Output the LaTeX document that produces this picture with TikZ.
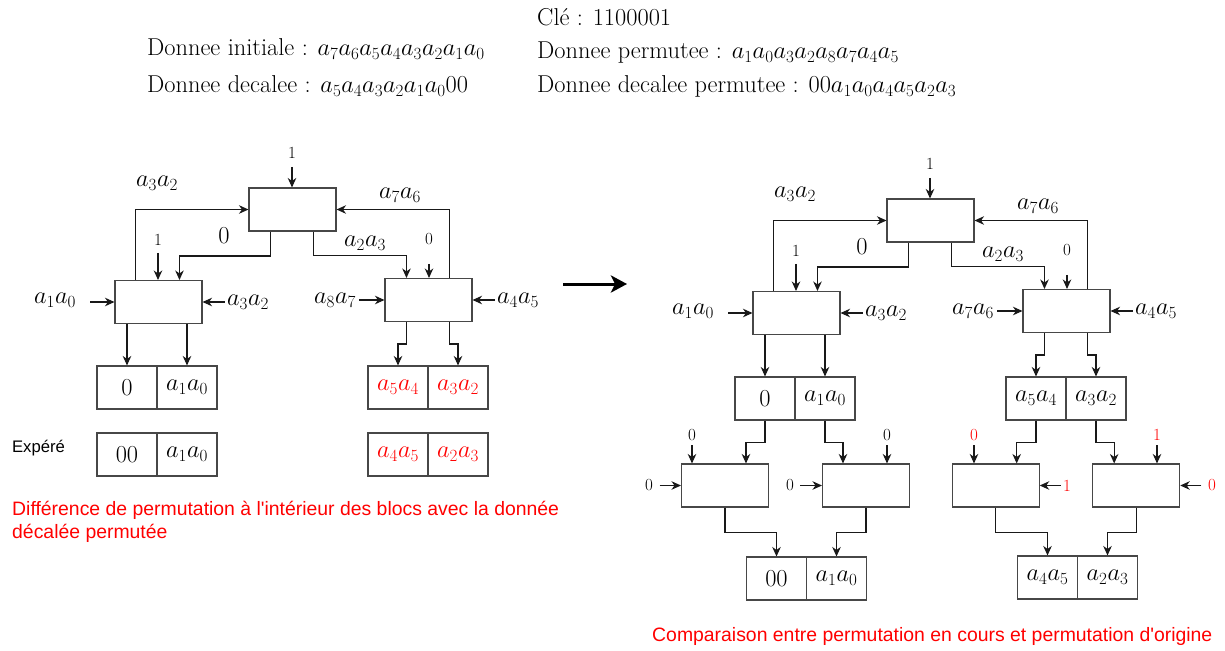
\RequirePackage{fix-cm}
\documentclass[tikz,border=0pt]{standalone}
\usepackage{fontspec}
\newfontfamily\arialf{Liberation Sans}
\usetikzlibrary{arrows.meta,calc}
\newcommand\lblfont{\fontsize{24.4}{29}\selectfont}
\newcommand\smfont{\fontsize{17}{20}\selectfont}
\newcommand\redfont{\arialf\fontsize{19.4}{23}\selectfont}
\newcommand\topdiag[2]{%
 \node[blk] (T) at (292.5,209.5) {};
 \node[blk] (A) at (158.5,302) {};
 \node[blk] (B) at (428.5,300) {};
 \node[cell] (Oa) at (127,387.5) {$0$};
 \node[cell] (Ob) at (187,387.5) {$a_1a_0$};
 \node[cell,text=#2] (Pa) at (398,387.5) {$a_5a_4$};
 \node[cell,text=#2] (Pb) at (458,387.5) {$a_3a_2$};
 \node[sml] (k1) at (292,153) {1};
 \node[sml] (k2) at (158,240) {1};
 \node[sml] (k3) at (429,239) {0};
 \node[lbl] (l1) at (157,183) {$a_3a_2$};
 \node[lbl] (l2) at (400,195) {$a_7a_6$};
 \node[lbl] (l3) at (224,236) {$0$};
 \node[lbl] (l4) at (365,243) {$a_2a_3$};
 \node[lbl] (l5) at (55,300) {$a_1a_0$};
 \node[lbl] (l6) at (248,302) {$a_3a_2$};
 \node[lbl] (l7) at (335,300) {$#1$};
 \node[lbl] (l8) at (518,300) {$a_4a_5$};
 \draw[arr,shorten <=6pt] (k1.south) -- (k1.south |- T.north);
 \draw[arr,shorten <=5pt] (k2.south) -- (k2.south |- A.north);
 \draw[arr,shorten <=17pt] (k3.south) -- (k3.south |- B.north);
 \draw[arr] ($(A.north west)+(21,0)$) |- (T.west);
 \draw[arr] ($(B.north west)+(65,0)$) |- (T.east);
 \draw[arr] ($(T.south west)+(22,0)$) -- ++(0,24.5) -| ($(A.north west)+(65,0)$);
 \draw[arr] ($(T.south west)+(65,0)$) -- ++(0,24) -| ($(B.north west)+(22,0)$);
 \draw[arr] (A.south -| Oa.north) -- (Oa.north);
 \draw[arr] (A.south -| Ob.north) -- (Ob.north);
 \draw[arr] ($(B.south west)+(22,0)$) -- ++(0,22) -| (Pa.north);
 \draw[arr] ($(B.south west)+(65,0)$) -- ++(0,22) -| (Pb.north);
 \draw[arr,shorten <=12pt] (l5.east |- A.west) -- (A.west);
 \draw[arr] (l6.west |- A.east) -- (A.east);
 \draw[arr,shorten <=1pt] (l7.east |- B.west) -- (B.west);
 \draw[arr] (l8.west |- B.east) -- (B.east);
}
\begin{document}
\begin{tikzpicture}[x=1pt,y=-1pt,
 blk/.style={draw=black!72,line width=1.05pt,minimum width=87pt,minimum height=43pt,inner sep=0pt},
 cell/.style={draw=black!72,line width=1.05pt,minimum width=60pt,minimum height=43pt,inner sep=0pt,font=\lblfont},
 lbl/.style={font=\lblfont,inner sep=2pt},
 sml/.style={font=\smfont,inner sep=2pt},
 arr/.style={line width=1.1pt,draw=black!90,-{Stealth[length=9.5pt,width=8.5pt,inset=3pt]}},
 hd/.style={font=\lblfont,anchor=base west,inner sep=0pt}]
\useasboundingbox (0,0) rectangle (1225,650);
% header
\node[hd] (h0) at (537,26) {Clé : 1100001};
\node[hd] (h1) at (147,56) {Donnee initiale : $a_7a_6a_5a_4a_3a_2a_1a_0$};
\node[hd] (h2) at (537,59) {Donnee permutee : $a_1a_0a_3a_2a_8a_7a_4a_5$};
\node[hd] (h3) at (147,93) {Donnee decalee : $a_5a_4a_3a_2a_1a_000$};
\node[hd] (h4) at (537,93) {Donnee decalee permutee : $00a_1a_0a_4a_5a_2a_3$};
% left diagram
\begin{scope}[name prefix=L-]
\topdiag{a_8a_7}{red}
\node[cell] (Ea) at (127,454.5) {$00$};
\node[cell] (Eb) at (187,454.5) {$a_1a_0$};
\node[cell,text=red] (Sa) at (398,454.5) {$a_4a_5$};
\node[cell,text=red] (Sb) at (458,454.5) {$a_2a_3$};
\node[font=\arialf\fontsize{16.7}{20}\selectfont,inner sep=0pt] (ex) at (38.5,448) {Expéré};
\node[anchor=west,text=red,font=\redfont,align=left,inner sep=0pt] (n1) at (12,521.5)
  {Différence de permutation à l'intérieur des blocs avec la donnée\\décalée permutée};
\end{scope}
% central arrow
\coordinate (m1) at (563,284);
\coordinate (m2) at (627,284);
\draw[line width=3pt,-{Stealth[length=16pt,width=17pt,inset=4pt]}] (m1) -- (m2);
% right diagram
\begin{scope}[shift={(638,11)},name prefix=R-]
\topdiag{a_7a_6}{black}
\end{scope}
\node[blk] (C1) at (725,485.5) {};
\node[blk] (C2) at (866,485.5) {};
\node[blk] (C3) at (995.7,485.5) {};
\node[blk] (C4) at (1136.2,485.5) {};
\node[cell] (Fa) at (776.5,578.5) {$00$};
\node[cell] (Fb) at (836.5,578.5) {$a_1a_0$};
\node[cell] (Ga) at (1047.5,577.5) {$a_4a_5$};
\node[cell] (Gb) at (1107.5,577.5) {$a_2a_3$};
\draw[arr] (R-Oa.south) -- ++(0,22) -| ($(C1.north west)+(65,0)$);
\draw[arr] (R-Ob.south) -- ++(0,22) -| ($(C2.north west)+(21,0)$);
\draw[arr] (R-Pa.south) -- ++(0,22) -| ($(C3.north west)+(65,0)$);
\draw[arr] (R-Pb.south) -- ++(0,22) -| ($(C4.north west)+(22,0)$);
\draw[arr] (C1.south) -- ++(0,25) -| (Fa.north);
\draw[arr] (C2.south) -- ++(0,25) -| (Fb.north);
\draw[arr] (C3.south) -- ++(0,25) -| (Ga.north);
\draw[arr] (C4.south) -- ++(0,25) -| (Gb.north);
\node[sml] (d1) at (692,435) {0};
\node[sml] (d2) at (887,435) {0};
\node[sml] (d3) at (649,485.5) {0};
\node[sml] (d4) at (790,485.5) {0};
\node[sml,text=red] (d5) at (974,435) {0};
\node[sml,text=red] (d6) at (1157,435) {1};
\node[sml,text=red] (d7) at (1067,485.5) {1};
\node[sml,text=red] (d8) at (1212,485.5) {0};
\draw[arr,shorten <=2.5pt] (d1.south) -- (d1.south |- C1.north);
\draw[arr,shorten <=2.5pt] (d2.south) -- (d2.south |- C2.north);
\draw[arr,shorten <=2.5pt] (d5.south) -- (d5.south |- C3.north);
\draw[arr,shorten <=2.5pt] (d6.south) -- (d6.south |- C4.north);
\draw[arr,shorten <=4.5pt] (d3.east) -- (C1.west);
\draw[arr,shorten <=4pt] (d4.east) -- (C2.west);
\draw[arr] (d7.west) -- (C3.east);
\draw[arr,shorten <=4.5pt] (d8.west) -- (C4.east);
\node[anchor=west,text=red,font=\redfont,inner sep=0pt] (n2) at (652,636)
  {Comparaison entre permutation en cours et permutation d'origine};
\end{tikzpicture}
\end{document}
